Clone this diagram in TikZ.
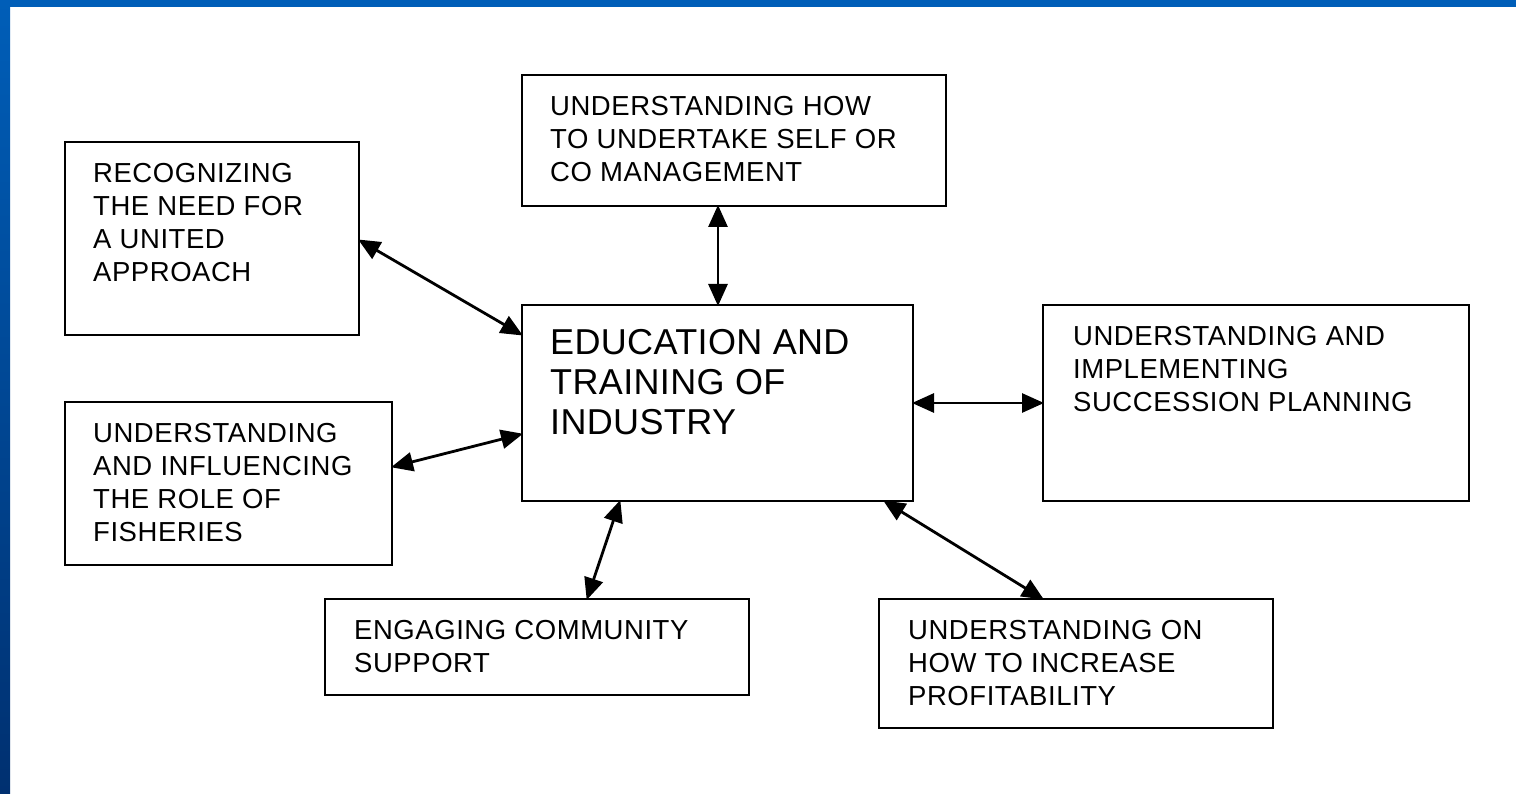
\documentclass[tikz,border=0pt]{standalone}
\usepackage{fontspec}
\setmainfont{Liberation Sans}[LetterSpace=2]
\newfontfamily\mainlblfont{Liberation Sans}[LetterSpace=1]
\usetikzlibrary{arrows.meta}
\definecolor{frameblue}{RGB}{0,94,184}
\definecolor{framedark}{RGB}{0,48,112}
\begin{document}
\begin{tikzpicture}[x=1pt,y=-1pt,
  box/.style={draw=black,line width=2pt,fill=white},
  lbl/.style={anchor=north west,inner sep=0pt,align=left,text=black,
    font=\fontsize{27.5pt}{33pt}\selectfont},
  mainlbl/.style={anchor=north west,inner sep=0pt,align=left,text=black,
    font=\mainlblfont\fontsize{36pt}{40pt}\selectfont},
  link/.style={line width=2.8pt,{Triangle[length=22pt,width=19pt]}-{Triangle[length=22pt,width=19pt]},shorten <=-1pt,shorten >=-1pt}]
\useasboundingbox (0,0) rectangle (1516,794);
\fill[white] (0,0) rectangle (1516,794);
\fill[frameblue] (0,0) rectangle (1516,7);
\shade[top color=frameblue,bottom color=framedark] (0,0) rectangle (10,794);
% boxes
\draw[box] (65,142) rectangle (359,335);
\draw[box] (522,75) rectangle (946,206);
\draw[box] (522,305) rectangle (913,501);
\draw[box] (1043,305) rectangle (1469,501);
\draw[box] (65,402) rectangle (392,565);
\draw[box] (325,599) rectangle (749,695);
\draw[box] (879,599) rectangle (1273,728);
% texts
\node[lbl] (t1) at (93,163) {RECOGNIZING\\THE NEED FOR\\A UNITED\\APPROACH};
\node[lbl] (t2) at (550,96) {UNDERSTANDING HOW\\TO UNDERTAKE SELF OR\\CO MANAGEMENT};
\node[mainlbl] (t3) at (550,329) {EDUCATION AND\\TRAINING OF\\INDUSTRY};
\node[lbl] (t4) at (1073,326) {UNDERSTANDING AND\\IMPLEMENTING\\SUCCESSION PLANNING};
\node[lbl] (t5) at (93,423) {UNDERSTANDING\\AND INFLUENCING\\THE ROLE OF\\FISHERIES};
\node[lbl] (t6) at (354,620) {ENGAGING COMMUNITY\\SUPPORT};
\node[lbl] (t7) at (908,620) {UNDERSTANDING ON\\HOW TO INCREASE\\PROFITABILITY};
% connector end points
\coordinate (a1) at (359,240); \coordinate (b1) at (522,335);
\coordinate (a2) at (718,206); \coordinate (b2) at (718,305);
\coordinate (a3) at (913,403); \coordinate (b3) at (1043,403);
\coordinate (a4) at (392,467); \coordinate (b4) at (522,434);
\coordinate (a5) at (587,599); \coordinate (b5) at (620,501);
\coordinate (a6) at (884,501); \coordinate (b6) at (1043,599);
\draw[link] (a1) -- (b1);
\draw[link] (a2) -- (b2);
\draw[link] (a3) -- (b3);
\draw[link] (a4) -- (b4);
\draw[link] (a5) -- (b5);
\draw[link] (a6) -- (b6);
\end{tikzpicture}
\end{document}
